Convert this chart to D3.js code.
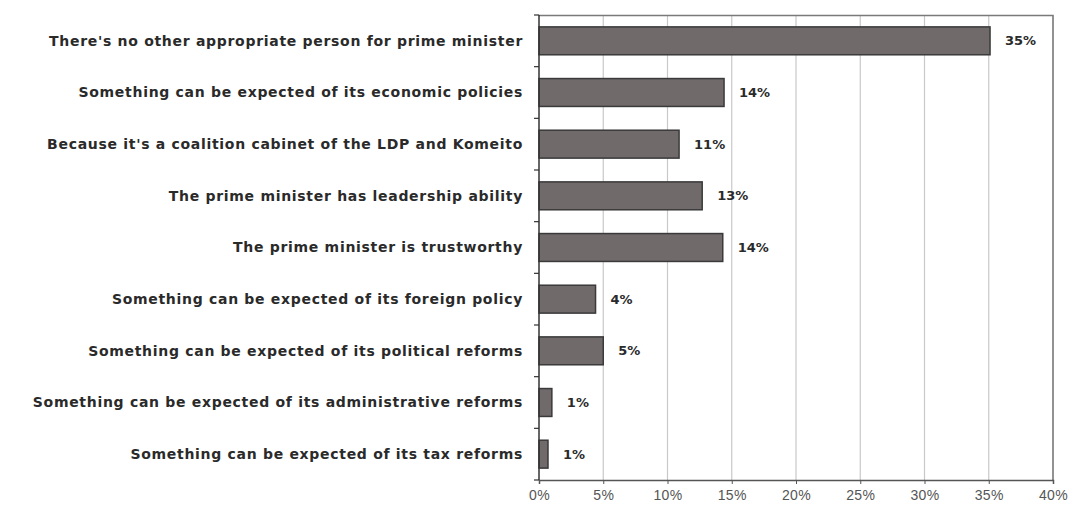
<!DOCTYPE html>
<html>
<head>
<meta charset="utf-8">
<script src="https://cdn.jsdelivr.net/npm/d3@7"></script>
<style>
  body { margin: 0; background: #fff; }
</style>
</head>
<body>
<script>
const canvWidth = 1082, canvHeight = 508;
const margin = {top: 15, right: 29, bottom: 28, left: 539};

// reasons for supporting the cabinet
const categories = [
    "There's no other appropriate person for prime minister",
    "Something can be expected of its economic policies",
    "Because it's a coalition cabinet of the LDP and Komeito",
    "The prime minister has leadership ability",
    "The prime minister is trustworthy",
    "Something can be expected of its foreign policy",
    "Something can be expected of its political reforms",
    "Something can be expected of its administrative reforms",
    "Something can be expected of its tax reforms"
];
const values = [35.1, 14.4, 10.9, 12.7, 14.3, 4.4, 5.0, 1.0, 0.7];
const valueLabels = ["35%", "14%", "11%", "13%", "14%", "4%", "5%", "1%", "1%"];
const xTicks = [0, 5, 10, 15, 20, 25, 30, 35, 40];

const width = canvWidth - margin.left - margin.right;
const height = canvHeight - margin.top - margin.bottom;

const svg = d3.select("body").append("svg")
    .attr("width", canvWidth)
    .attr("height", canvHeight);

const g = svg.append("g")
    .attr("transform", `translate(${margin.left},${margin.top})`);

const xScale = d3.scaleLinear().domain([0, 40]).range([0, width]);
const yScale = d3.scaleBand().domain(categories).range([0, height])
    .paddingInner(0.46).paddingOuter(0.23);

// gridlines
g.selectAll(".grid")
    .data(xTicks.slice(1))
    .enter().append("line")
    .attr("x1", d => xScale(d)).attr("x2", d => xScale(d))
    .attr("y1", 0).attr("y2", height)
    .attr("stroke", "#c8c8c8")
    .attr("stroke-width", 1.2);

// frame top and right
g.append("path")
    .attr("d", `M0,0.5H${width}V${height}`)
    .attr("fill", "none")
    .attr("stroke", "#7a7a7a")
    .attr("stroke-width", 1.5);

// bars
const data = categories.map((c, i) => ({cat: c, value: values[i], label: valueLabels[i]}));

g.selectAll("rect.bar")
    .data(data)
    .enter().append("rect")
    .attr("class", "bar")
    .attr("x", 0)
    .attr("y", d => yScale(d.cat))
    .attr("width", d => xScale(d.value))
    .attr("height", yScale.bandwidth())
    .attr("fill", "#706a6b")
    .attr("stroke", "#3a3a3a")
    .attr("stroke-width", 1.5);

g.selectAll("text.val")
    .data(data)
    .enter().append("text")
    .attr("class", "val")
    .attr("x", d => xScale(d.value) + 15)
    .attr("y", d => yScale(d.cat) + yScale.bandwidth() / 2)
    .attr("dy", "0.35em")
    .attr("font-family", "DejaVu Sans, sans-serif")
    .attr("font-weight", "bold")
    .attr("font-size", "13px")
    .attr("fill", "#2a2a2a")
    .text(d => d.label);

// x axis
const xAxis = d3.axisBottom(xScale)
    .tickValues(xTicks)
    .tickFormat(d => d + "%")
    .tickSize(4)
    .tickPadding(6);
const xg = g.append("g")
    .attr("transform", `translate(0,${height})`)
    .call(xAxis);
xg.select(".domain").attr("stroke", "#555").attr("stroke-width", 1.5);
xg.selectAll(".tick line").attr("stroke", "#555");
xg.selectAll(".tick text")
    .attr("font-family", "Liberation Sans, Arial, sans-serif")
    .attr("font-size", "14px")
    .attr("letter-spacing", "0.4px")
    .attr("fill", "#555");

// y axis: ticks between categories
const boundaries = d3.range(categories.length + 1).map(i => i * height / categories.length);
g.append("line")
    .attr("x1", 0).attr("x2", 0)
    .attr("y1", 0).attr("y2", height)
    .attr("stroke", "#333")
    .attr("stroke-width", 1.5);
g.selectAll(".ytick")
    .data(boundaries)
    .enter().append("line")
    .attr("x1", -5).attr("x2", 0)
    .attr("y1", d => d).attr("y2", d => d)
    .attr("stroke", "#333")
    .attr("stroke-width", 1.2);

// category labels
g.selectAll("text.cat")
    .data(categories)
    .enter().append("text")
    .attr("class", "cat")
    .attr("x", -16)
    .attr("y", d => yScale(d) + yScale.bandwidth() / 2)
    .attr("dy", "0.35em")
    .attr("text-anchor", "end")
    .attr("font-family", "DejaVu Sans, sans-serif")
    .attr("font-weight", "bold")
    .attr("font-size", "14px")
    .attr("letter-spacing", "0.7px")
    .attr("fill", "#2a2a2a")
    .text(d => d);
</script>
</body>
</html>
